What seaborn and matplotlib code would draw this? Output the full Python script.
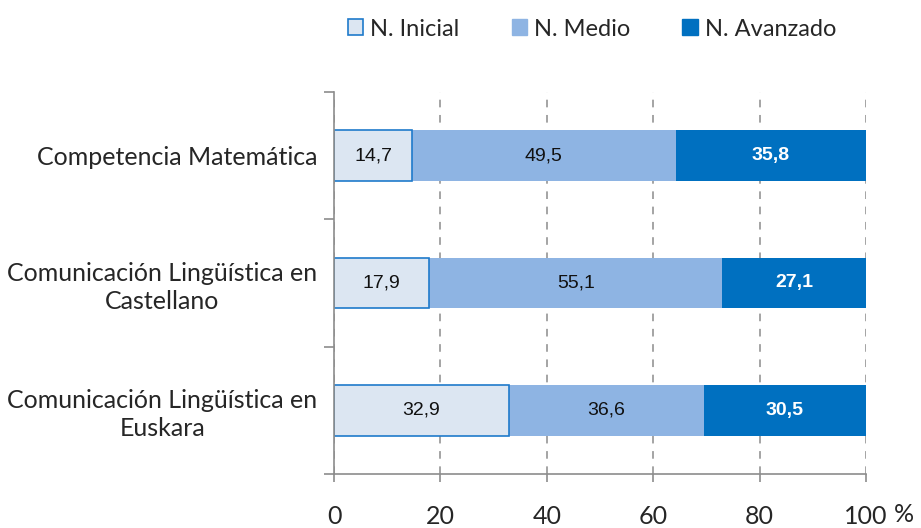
import matplotlib
matplotlib.use("Agg")
import matplotlib.pyplot as plt
from matplotlib.patches import Patch
import numpy as np
import pandas as pd
import seaborn as sns

# Data
categories = ["Competencia Matemática",
              "Comunicación Lingüística en\nCastellano",
              "Comunicación Lingüística en\nEuskara"]
inicial = [14.7, 17.9, 32.9]
medio = [49.5, 55.1, 36.6]
avanzado = [35.8, 27.1, 30.5]
series_names = ["N. Inicial", "N. Medio", "N. Avanzado"]
x_ticks = [0, 20, 40, 60, 80, 100]
x_tick_labels = ["0", "20", "40", "60", "80", "100"]
x_unit = "%"

colors = ["#DCE6F2", "#8EB4E3", "#0070C0"]

sns.set_theme(style="white")
plt.rcParams["font.family"] = ["Lato", "DejaVu Sans"]

df = pd.DataFrame({"cat": categories, "ini": inicial, "med": medio, "ava": avanzado})
df["c1"] = df["ini"]
df["c2"] = df["ini"] + df["med"]
df["c3"] = df["c2"] + df["ava"]

fig = plt.figure(figsize=(9.21, 5.28), dpi=100)
ax = fig.add_axes([334 / 921, 1 - 474 / 528, 532 / 921, 382 / 528])

# stacked bars: draw cumulative totals from the back to the front
sns.barplot(data=df, x="c3", y="cat", orient="h", color=colors[2], width=0.4,
            saturation=1, ax=ax, linewidth=0)
sns.barplot(data=df, x="c2", y="cat", orient="h", color=colors[1], width=0.4,
            saturation=1, ax=ax, linewidth=0)
sns.barplot(data=df, x="c1", y="cat", orient="h", color=colors[0], width=0.4,
            saturation=1, ax=ax, edgecolor="#1F7ACB", linewidth=1.2)

# value labels
lbl = dict(ha="center", va="center", fontsize=14, family="Liberation Sans")
for i, row in df.iterrows():
    ax.text(row["ini"] / 2, i, f"{row['ini']:.1f}".replace(".", ","), color="#111111", **lbl)
    ax.text(row["c1"] + row["med"] / 2, i, f"{row['med']:.1f}".replace(".", ","), color="#111111", **lbl)
    ax.text(row["c2"] + row["ava"] / 2, i, f"{row['ava']:.1f}".replace(".", ","),
            color="white", fontweight="bold", **lbl)

ax.set_xlim(0, 100)
ax.set_ylim(2.5, -0.5)
ax.set_xlabel("")
ax.set_ylabel("")

ax.set_xticks(x_ticks)
ax.set_xticklabels(x_tick_labels, fontsize=18)
# unit sign after the last tick label
ax.annotate(x_unit, xy=(x_ticks[-1], 0), xycoords=("data", "axes fraction"),
            xytext=(20, -29.5), textcoords="offset points", ha="left", va="center",
            fontsize=18, annotation_clip=False)

ax.set_yticks(range(len(categories)))
ax.set_yticklabels(categories, fontsize=18, multialignment="center", linespacing=1.25)
ax.set_yticks([-0.5, 0.5, 1.5, 2.5], minor=True)
ax.tick_params(axis="y", which="major", length=0, pad=12)
ax.tick_params(axis="y", which="minor", length=7, width=1.2, color="#8C8C8C", direction="out", left=True)
ax.tick_params(axis="x", which="major", length=6, width=1.2, color="#8C8C8C", direction="out",
               bottom=True, pad=16)

ax.xaxis.grid(True, color="#8C8C8C", linestyle=(0, (5, 5)), linewidth=1.1)
ax.set_axisbelow(True)

for s in ["top", "right"]:
    ax.spines[s].set_visible(False)
for s in ["left", "bottom"]:
    ax.spines[s].set_color("#8C8C8C")
    ax.spines[s].set_linewidth(1.2)

handles = [Patch(facecolor=colors[0], edgecolor="#1F7ACB", linewidth=1.2),
           Patch(facecolor=colors[1], edgecolor=colors[1]),
           Patch(facecolor=colors[2], edgecolor=colors[2])]
fig.legend(handles, series_names, loc="center", bbox_to_anchor=(592 / 921, 1 - 29 / 528),
           ncol=3, frameon=False, fontsize=17, handlelength=0.65, handleheight=0.65,
           handletextpad=0.3, columnspacing=2.2)

fig.savefig("out.png", dpi=100)
